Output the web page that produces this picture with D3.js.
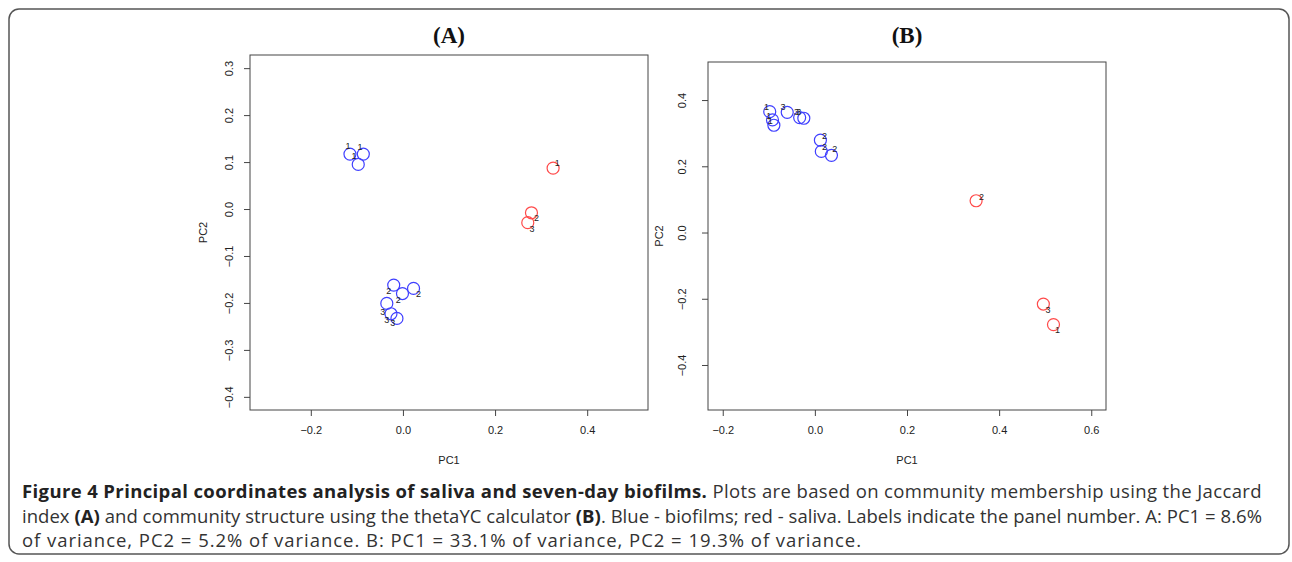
<!DOCTYPE html>
<html>
<head>
<meta charset="utf-8">
<script src="https://cdn.jsdelivr.net/npm/d3@7"></script>
<style>
  body { margin: 0; background: #fff; }
  .tick text { font-family: "Liberation Sans", Arial, sans-serif; font-size: 11px; fill: #222; }
  .axis-title { font-family: "Liberation Sans", Arial, sans-serif; font-size: 11px; fill: #222; }
  .panel-title { font-family: "Liberation Serif", serif; font-weight: bold; font-size: 23px; fill: #111; }
  .pt-label { font-family: "Liberation Sans", Arial, sans-serif; font-size: 9px; fill: #222; }
  .caption { font-family: "Open Sans", sans-serif; font-size: 18.5px; fill: #333; }
</style>
</head>
<body>
<div id="chart"></div>
<script>
// panel A: Jaccard (community membership)
const aX = [-0.115, -0.086, -0.097, -0.020, -0.001, 0.023, -0.035, -0.026, -0.013, 0.326, 0.279, 0.271];
const aY = [0.117, 0.117, 0.095, -0.162, -0.180, -0.169, -0.201, -0.223, -0.233, 0.087, -0.008, -0.029];
const aLabels = ['1', '1', '1', '2', '2', '2', '3', '3', '3', '1', '2', '3'];
const aGroups = ['biofilm', 'biofilm', 'biofilm', 'biofilm', 'biofilm', 'biofilm', 'biofilm', 'biofilm', 'biofilm', 'saliva', 'saliva', 'saliva'];
const aLabelX = [-0.119, -0.093, -0.106, -0.031, -0.010, 0.034, -0.044, -0.035, -0.022, 0.335, 0.290, 0.280];
const aLabelY = [0.134, 0.132, 0.113, -0.174, -0.194, -0.181, -0.219, -0.237, -0.243, 0.098, -0.019, -0.043];
const aXLim = [-0.3, 0.5];
const aYLim = [-0.4, 0.3];
const aXTicks = [-0.2, 0.0, 0.2, 0.4];
const aYTicks = [-0.4, -0.3, -0.2, -0.1, 0.0, 0.1, 0.2, 0.3];

// panel B: thetaYC (community structure)
const bX = [-0.098, -0.092, -0.089, -0.060, -0.033, -0.024, 0.012, 0.014, 0.036, 0.350, 0.496, 0.518];
const bY = [0.365, 0.340, 0.324, 0.363, 0.347, 0.345, 0.279, 0.245, 0.233, 0.096, -0.216, -0.278];
const bLabels = ['1', '1', '1', '3', '3', '3', '2', '2', '2', '2', '3', '1'];
const bGroups = ['biofilm', 'biofilm', 'biofilm', 'biofilm', 'biofilm', 'biofilm', 'biofilm', 'biofilm', 'biofilm', 'saliva', 'saliva', 'saliva'];
const bLabelX = [-0.105, -0.100, -0.097, -0.069, -0.040, -0.035, 0.021, 0.021, 0.043, 0.362, 0.506, 0.527];
const bLabelY = [0.378, 0.353, 0.336, 0.378, 0.363, 0.363, 0.292, 0.258, 0.251, 0.106, -0.233, -0.294];
const bXLim = [-0.2, 0.6];
const bYLim = [-0.497, 0.476];
const bXTicks = [-0.2, 0.0, 0.2, 0.4, 0.6];
const bYTicks = [-0.4, -0.2, 0.0, 0.2, 0.4];

const captionLines = [
  [['Figure 4 Principal coordinates analysis of saliva and seven-day biofilms.', true], [' Plots are based on community membership using the Jaccard', false]],
  [['index ', false], ['(A)', true], [' and community structure using the thetaYC calculator ', false], ['(B)', true], ['. Blue - biofilms; red - saliva. Labels indicate the panel number. A: PC1 = 8.6%', false]],
  [['of variance, PC2 = 5.2% of variance. B: PC1 = 33.1% of variance, PC2 = 19.3% of variance.', false]]
];

const width = 1292;
const height = 562;
const groupColor = { biofilm: '#3f3fff', saliva: '#ff4a4a' };
// line widths of the caption block, px (first two lines are justified)
const captionWidths = [1240, 1240, 840];

const svg = d3.select('#chart').append('svg')
  .attr('width', width)
  .attr('height', height);

svg.append('rect')
  .attr('width', width).attr('height', height)
  .attr('fill', '#fff');

// outer figure frame
svg.append('rect')
  .attr('x', 9).attr('y', 9)
  .attr('width', 1280).attr('height', 545)
  .attr('rx', 10)
  .attr('fill', 'none')
  .attr('stroke', '#555')
  .attr('stroke-width', 1.5);

drawPanel(svg, {
  title: '(A)', xs: aX, ys: aY, labels: aLabels, groups: aGroups, lx: aLabelX, ly: aLabelY,
  xLim: aXLim, yLim: aYLim, xTicks: aXTicks, yTicks: aYTicks,
  box: { left: 250, right: 648, top: 55, bottom: 410 }, yTickOffset: 21, yTitleX: 203
});

drawPanel(svg, {
  title: '(B)', xs: bX, ys: bY, labels: bLabels, groups: bGroups, lx: bLabelX, ly: bLabelY,
  xLim: bXLim, yLim: bYLim, xTicks: bXTicks, yTicks: bYTicks,
  box: { left: 708, right: 1106, top: 62, bottom: 410 }, yTickOffset: 26, yTitleX: 659
});

drawCaption(svg);

function expand(lim) {
  // R style 4% padding on each side
  const pad = (lim[1] - lim[0]) * 0.04;
  return [lim[0] - pad, lim[1] + pad];
}

function drawPanel(svg, p) {
  const box = p.box;
  const x = d3.scaleLinear().domain(expand(p.xLim)).range([box.left, box.right]);
  const y = d3.scaleLinear().domain(expand(p.yLim)).range([box.bottom, box.top]);
  const fmt = d3.format('.1f');

  const g = svg.append('g');

  g.append('rect')
    .attr('x', box.left).attr('y', box.top)
    .attr('width', box.right - box.left).attr('height', box.bottom - box.top)
    .attr('fill', 'none')
    .attr('stroke', '#444')
    .attr('stroke-width', 1);

  const xAxis = g.append('g')
    .attr('transform', `translate(0,${box.bottom})`)
    .call(d3.axisBottom(x).tickValues(p.xTicks).tickFormat(fmt).tickSize(6).tickSizeOuter(0).tickPadding(10));
  xAxis.select('.domain').remove();
  xAxis.selectAll('.tick line').attr('stroke', '#444');

  const yAxis = g.append('g')
    .attr('transform', `translate(${box.left},0)`)
    .call(d3.axisLeft(y).tickValues(p.yTicks).tickFormat(fmt).tickSize(6).tickSizeOuter(0));
  yAxis.select('.domain').remove();
  yAxis.selectAll('.tick line').attr('stroke', '#444');
  yAxis.selectAll('.tick text')
    .attr('x', 0).attr('dy', null)
    .attr('text-anchor', 'middle')
    .attr('dominant-baseline', 'central')
    .attr('transform', `translate(${-p.yTickOffset},0) rotate(-90)`);

  g.append('text')
    .attr('class', 'axis-title')
    .attr('x', (box.left + box.right) / 2)
    .attr('y', 464)
    .attr('text-anchor', 'middle')
    .text('PC1');

  g.append('text')
    .attr('class', 'axis-title')
    .attr('text-anchor', 'middle')
    .attr('dominant-baseline', 'central')
    .attr('transform', `translate(${p.yTitleX},${(box.top + box.bottom) / 2}) rotate(-90)`)
    .text('PC2');

  g.append('text')
    .attr('class', 'panel-title')
    .attr('x', (box.left + box.right) / 2)
    .attr('y', 43)
    .attr('text-anchor', 'middle')
    .text(p.title);

  const idx = d3.range(p.xs.length);

  g.selectAll('circle.pt')
    .data(idx)
    .enter().append('circle')
    .attr('class', 'pt')
    .attr('cx', i => x(p.xs[i]))
    .attr('cy', i => y(p.ys[i]))
    .attr('r', 6)
    .attr('fill', 'none')
    .attr('stroke', i => groupColor[p.groups[i]])
    .attr('stroke-width', 1.2);

  g.selectAll('text.pt-label')
    .data(idx)
    .enter().append('text')
    .attr('class', 'pt-label')
    .attr('x', i => x(p.lx[i]))
    .attr('y', i => y(p.ly[i]))
    .attr('text-anchor', 'middle')
    .attr('dominant-baseline', 'central')
    .text(i => p.labels[i]);
}

function drawCaption(svg) {
  captionLines.forEach((line, li) => {
    const text = svg.append('text')
      .attr('class', 'caption')
      .attr('x', 22)
      .attr('y', 498 + li * 24.5);

    line.forEach(([str, bold]) => {
      text.append('tspan')
        .attr('font-weight', bold ? 'bold' : null)
        .attr('fill', bold ? '#222' : null)
        .text(str);
    });

    // spread the glyphs so the line fills its width, like the justified original
    const natural = text.node().getComputedTextLength();
    const chars = line.reduce((n, s) => n + s[0].length, 0);
    const extra = (captionWidths[li] - natural) / chars;
    if (extra > 0) text.style('letter-spacing', `${extra}px`);
  });
}
</script>
</body>
</html>
